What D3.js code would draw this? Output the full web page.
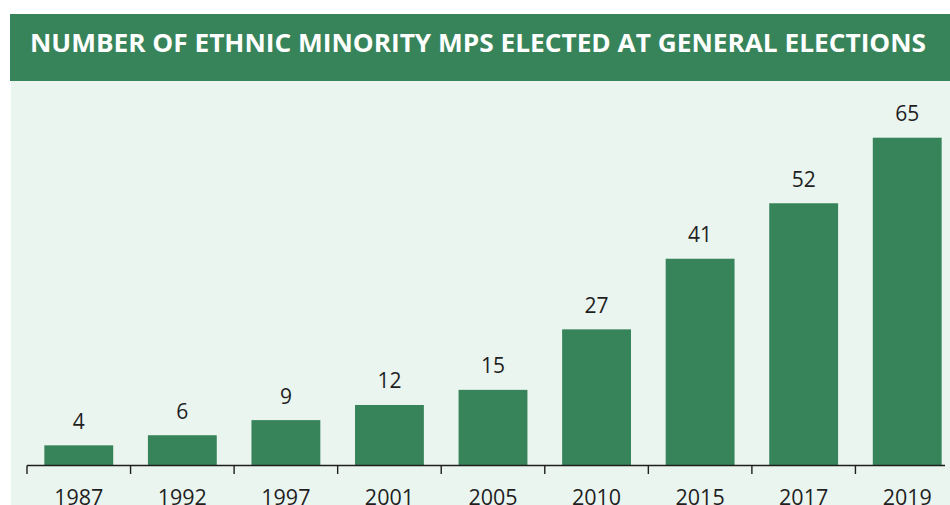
<!DOCTYPE html>
<html>
<head>
<meta charset="utf-8">
<script src="https://cdn.jsdelivr.net/npm/d3@7"></script>
<style>
  html, body { margin: 0; padding: 0; background: #ffffff; }
  svg { display: block; }
</style>
</head>
<body>
<svg id="chart" width="950" height="505"></svg>
<script>
// Ethnic minority MPs elected at each UK general election
const years = ["1987", "1992", "1997", "2001", "2005", "2010", "2015", "2017", "2019"];
const mps = [4, 6, 9, 12, 15, 27, 41, 52, 65];
const title = "NUMBER OF ETHNIC MINORITY MPS ELECTED AT GENERAL ELECTIONS";

const W = 950, H = 505;
const green = "#37845b";
const mint = "#ebf5ef";
const ink = "#1f1f1f";

const svg = d3.select("#chart");

// panel background and header band
svg.append("rect").attr("x", 11).attr("y", 81).attr("width", W - 11).attr("height", H - 81).attr("fill", mint);
svg.append("rect").attr("x", 10).attr("y", 14).attr("width", W - 10).attr("height", 67).attr("fill", green);
svg.append("text")
  .attr("x", 30).attr("y", 52)
  .attr("fill", "#ffffff")
  .attr("font-family", "'Open Sans', sans-serif")
  .attr("font-weight", 700)
  .attr("font-size", 25.5)
  .attr("textLength", 896)
  .attr("lengthAdjust", "spacingAndGlyphs")
  .text(title);

const baseY = 465.5;
const x = d3.scaleBand().domain(years).range([27, 959]).paddingInner(0.335).paddingOuter(0.1675);
const y = d3.scaleLinear().domain([0, 65]).range([baseY, 137.7]);

// bars
svg.append("g").selectAll("rect")
  .data(mps)
  .join("rect")
  .attr("x", (d, i) => x(years[i]))
  .attr("y", d => y(d))
  .attr("width", x.bandwidth())
  .attr("height", d => y(0) - y(d))
  .attr("fill", green);

// value labels
svg.append("g").selectAll("text")
  .data(mps)
  .join("text")
  .attr("x", (d, i) => x(years[i]) + x.bandwidth() / 2)
  .attr("y", d => y(d) - 16.5)
  .attr("text-anchor", "middle")
  .attr("fill", ink)
  .attr("font-family", "'Open Sans', sans-serif")
  .attr("font-size", 21)
  .text(d => d);

// category axis with ticks at band boundaries
const step = x.step();
const bounds = d3.range(years.length + 1).map(i => 27 + i * step);
const axisG = svg.append("g");
axisG.append("line")
  .attr("x1", 27).attr("x2", W - 5)
  .attr("y1", baseY).attr("y2", baseY)
  .attr("stroke", ink).attr("stroke-width", 1.4);
axisG.selectAll("line.tick")
  .data(bounds)
  .join("line")
  .attr("class", "tick")
  .attr("x1", d => d).attr("x2", d => d)
  .attr("y1", baseY).attr("y2", baseY + 8.5)
  .attr("stroke", ink).attr("stroke-width", 1.4);
axisG.selectAll("text")
  .data(years)
  .join("text")
  .attr("x", d => x(d) + x.bandwidth() / 2)
  .attr("y", 505)
  .attr("text-anchor", "middle")
  .attr("fill", ink)
  .attr("font-family", "'Open Sans', sans-serif")
  .attr("font-size", 21.5)
  .text(d => d);
</script>
</body>
</html>
